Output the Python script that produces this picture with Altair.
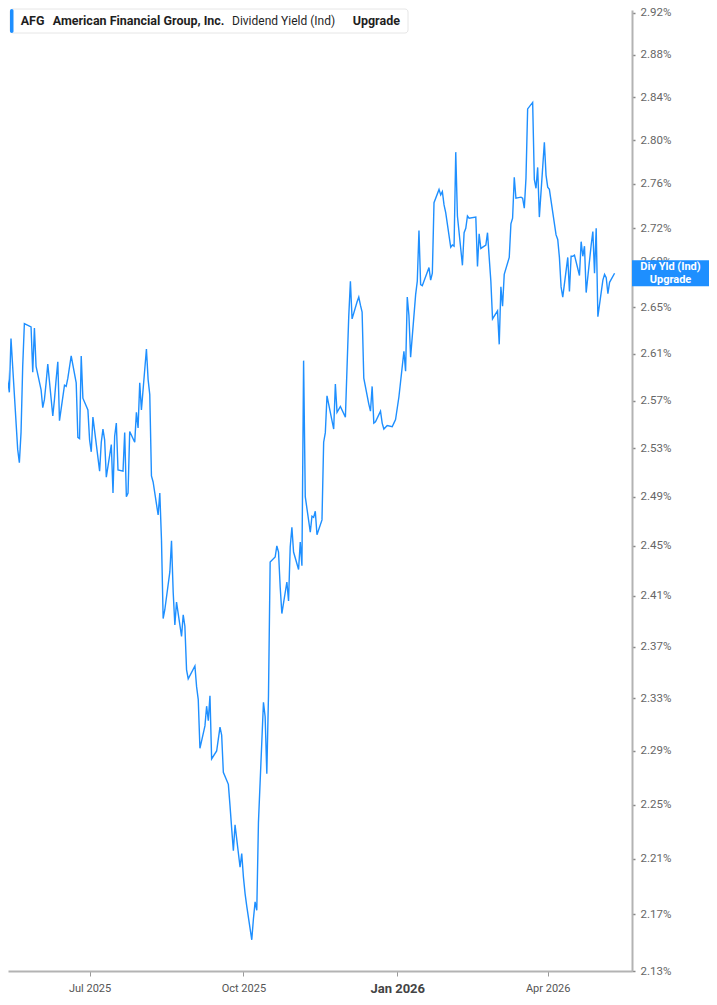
import altair as alt
import pandas as pd

# Dividend yield (%), one value per trading day
YIELD = [
    2.616, 2.607, 2.628, 2.588, 2.577, 2.623, 2.599, 2.529, 2.518, 2.543,
    2.599, 2.636, 2.633, 2.594, 2.632, 2.599, 2.579, 2.564, 2.571, 2.585,
    2.601, 2.557, 2.571, 2.588, 2.603, 2.553, 2.583, 2.582, 2.589, 2.608,
    2.585, 2.539, 2.538, 2.608, 2.572, 2.562, 2.537, 2.527, 2.556, 2.511,
    2.535, 2.546, 2.537, 2.506, 2.533, 2.493, 2.540, 2.551, 2.512, 2.511,
    2.543, 2.490, 2.493, 2.544, 2.535, 2.560, 2.547, 2.585, 2.562, 2.614,
    2.588, 2.575, 2.507, 2.502, 2.475, 2.493, 2.455, 2.392, 2.399, 2.429,
    2.454, 2.413, 2.387, 2.405, 2.378, 2.395, 2.386, 2.352, 2.345, 2.355,
    2.339, 2.329, 2.292, 2.309, 2.324, 2.313, 2.332, 2.284, 2.290, 2.299,
    2.308, 2.302, 2.274, 2.265, 2.249, 2.232, 2.216, 2.235, 2.204, 2.214,
    2.197, 2.185, 2.176, 2.152, 2.167, 2.179, 2.173, 2.237, 2.327, 2.316,
    2.273, 2.332, 2.437, 2.441, 2.450, 2.445, 2.417, 2.396, 2.421, 2.406,
    2.449, 2.465, 2.445, 2.431, 2.453, 2.434, 2.604, 2.490, 2.461, 2.474,
    2.473, 2.478, 2.459, 2.471, 2.535, 2.543, 2.574, 2.567, 2.546, 2.584,
    2.560, 2.565, 2.556, 2.599, 2.642, 2.673, 2.640, 2.655, 2.659, 2.652,
    2.646, 2.589, 2.567, 2.561, 2.582, 2.551, 2.552, 2.561, 2.551, 2.546,
    2.549, 2.548, 2.551, 2.554, 2.573, 2.612, 2.595, 2.659, 2.643, 2.607,
    2.661, 2.673, 2.718, 2.670, 2.669, 2.685, 2.674, 2.680, 2.743, 2.755,
    2.750, 2.753, 2.741, 2.734, 2.703, 2.705, 2.704, 2.789, 2.731, 2.687,
    2.716, 2.720, 2.731, 2.729, 2.730, 2.686, 2.715, 2.702, 2.705, 2.716,
    2.694, 2.673, 2.640, 2.647, 2.618, 2.668, 2.651, 2.679, 2.694, 2.724,
    2.729, 2.766, 2.747, 2.748, 2.747, 2.738, 2.765, 2.829, 2.835, 2.764,
    2.756, 2.775, 2.730, 2.798, 2.768, 2.757, 2.755, 2.714, 2.710, 2.694,
    2.668, 2.659, 2.694, 2.664, 2.695, 2.695, 2.696, 2.678, 2.708, 2.695,
    2.704, 2.663, 2.705, 2.717, 2.680, 2.720, 2.642, 2.674, 2.679, 2.676,
    2.662, 2.672, 2.680,
]

START_DATE = "2025-05-08"
HOLIDAYS = [
    "2025-05-26", "2025-06-19", "2025-07-04", "2025-09-01", "2025-11-27",
    "2025-12-25", "2026-01-01", "2026-01-19", "2026-02-16", "2026-04-03",
]

Y_TICKS = [2.13, 2.17, 2.21, 2.25, 2.29, 2.33, 2.37, 2.41, 2.45, 2.49, 2.53,
           2.57, 2.61, 2.65, 2.69, 2.72, 2.76, 2.80, 2.84, 2.88, 2.92]
X_TICKS = [(2025, 7), (2025, 10), (2026, 1), (2026, 4)]

LEGEND_PARTS = [
    ("AFG", "bold"),
    ("American Financial Group, Inc.", "bold"),
    ("Dividend Yield (Ind)", "normal"),
    ("Upgrade", "bold"),
]
BADGE_LINES = ["Div Yld (Ind)", "Upgrade"]

dates = pd.bdate_range(START_DATE, periods=len(YIELD), freq="C", holidays=HOLIDAYS)
df = pd.DataFrame({"date": dates, "yield": YIELD})
last = df.tail(1)
one = pd.DataFrame({"k": [0]})

BLUE = "#1e8fff"
FONT = "Roboto"

x_scale = alt.Scale(
    domain=[alt.DateTime(year=2025, month=5, date=13, hours=5),
            alt.DateTime(year=2026, month=5, date=21, hours=10)],
    nice=False,
)
y_scale = alt.Scale(type="log", domain=[2.13, 2.9226], nice=False)

x_axis = alt.Axis(
    values=[alt.DateTime(year=y, month=m, date=1) for y, m in X_TICKS],
    labelExpr="timeFormat(datum.value, '%b %Y')",
    labelFontWeight={"condition": {"test": "month(datum.value) == 0", "value": "bold"}, "value": "normal"},
    labelFontSize={"condition": {"test": "month(datum.value) == 0", "value": 13}, "value": 11},
    labelColor={"condition": {"test": "month(datum.value) == 0", "value": "#444444"}, "value": "#555555"},
    labelFont=FONT,
    labelPadding=6,
    labelFlush=False,
    labelOverlap=False,
    domainColor="#b3b3b3",
    domainWidth=2,
    tickColor="#9a9a9a",
    tickSize=5,
    tickWidth=1,
    grid=False,
    title=None,
)

y_axis = alt.Axis(
    orient="right",
    values=Y_TICKS,
    labelExpr="format(datum.value, '.2f') + '%'",
    labelFont=FONT,
    labelFontSize=11.5,
    labelColor="#666666",
    labelPadding=5,
    labelOverlap=False,
    labelFlush=False,
    domainColor="#b3b3b3",
    domainWidth=2,
    tickColor="#888888",
    tickSize=3,
    tickWidth=1.5,
    grid=False,
    title=None,
)

line = alt.Chart(df).mark_line(color=BLUE, strokeWidth=1.4, clip=True).encode(
    x=alt.X("date:T", scale=x_scale, axis=x_axis),
    y=alt.Y("yield:Q", scale=y_scale, axis=y_axis),
)

# legend box, top left
box = alt.Chart(one).mark_rect(fill="white", stroke="#e6e6e6", strokeWidth=1, cornerRadius=3).encode(
    x=alt.value(2), x2=alt.value(400), y=alt.value(-1), y2=alt.value(23)
)
bar = alt.Chart(one).mark_rect(fill=BLUE, cornerRadius=2).encode(
    x=alt.value(2), x2=alt.value(5.5), y=alt.value(-1), y2=alt.value(23)
)
legend_x = [12.7, 44.7, 224, 344.7]
legend_texts = []
for (txt, weight), lx in zip(LEGEND_PARTS, legend_x):
    legend_texts.append(
        alt.Chart(one).mark_text(
            text=txt, font=FONT, fontSize=12.5 if weight == "bold" else 12,
            fontWeight=weight, color="#1f1f1f", align="left", baseline="middle",
        ).encode(x=alt.value(lx), y=alt.value(11))
    )

# last-value badge on the right axis
badge = alt.Chart(last).mark_point(
    shape="M-1,-0.3377L1,-0.3377L1,0.3377L-1,0.3377Z",
    size=5929, filled=True, opacity=1, color=BLUE, strokeWidth=0,
).encode(x=alt.value(662.5), y=alt.Y("yield:Q", scale=y_scale))

badge_texts = []
for txt, dy in zip(BADGE_LINES, [-6.5, 6.5]):
    badge_texts.append(
        alt.Chart(last).mark_text(
            text=txt, dy=dy, font=FONT, fontSize=11, fontWeight="bold",
            color="white", align="center", baseline="middle",
        ).encode(x=alt.value(662.5), y=alt.Y("yield:Q", scale=y_scale))
    )

chart = alt.layer(line, box, bar, *legend_texts, badge, *badge_texts).properties(
    width=624,
    height=961,
    padding={"left": 0, "top": 2, "right": 77, "bottom": 25},
    autosize=alt.AutoSizeParams(type="none"),
).configure_view(stroke=None)

chart.save("out.html", embed_options={"renderer": "svg", "actions": False})
